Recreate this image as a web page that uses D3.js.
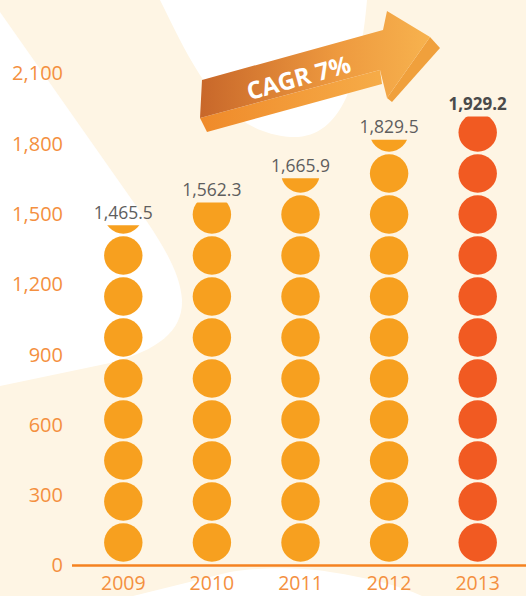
<!DOCTYPE html>
<html>
<head>
<meta charset="utf-8">
<script src="https://cdn.jsdelivr.net/npm/d3@7"></script>
<style>
  html, body { margin: 0; padding: 0; background: #fef5e4; }
  svg { display: block; font-family: "Open Sans", "Noto Sans", sans-serif; }
</style>
</head>
<body>
<div id="chart"></div>
<script>
// data
const years = ['2009', '2010', '2011', '2012', '2013'];
const values = [1465.5, 1562.3, 1665.9, 1829.5, 1929.2];
const valueLabels = ['1,465.5', '1,562.3', '1,665.9', '1,829.5', '1,929.2'];
const yTicks = [0, 300, 600, 900, 1200, 1500, 1800, 2100];
const cagrLabel = 'CAGR 7%';

// one dot per 175 units, first dot centred at 98
const dotStep = 175;
const dotStart = 98;
const dotRadius = 82;

const width = 526;
const height = 596;

const svg = d3.select('#chart')
  .append('svg')
  .attr('width', width)
  .attr('height', height);

const defs = svg.append('defs');

// background swooshes
svg.append('rect').attr('width', width).attr('height', height).attr('fill', '#fef5e4');
const bg = svg.append('g').attr('fill', '#ffffff');
bg.append('path').attr('d', 'M0,12 L125,190 C150,226 180,265 182,300 C183,330 160,350 110,363 L0,386 Z');
bg.append('path').attr('d', 'M160,0 C190,60 220,132 290,137 C342,140 360,80 367,0 Z');
bg.append('path').attr('d', 'M133,596 L230,572 C260,567 300,567 330,572 C370,578 400,586 422,596 Z');

const x = d3.scaleBand().domain(years).range([79, 522]);
const y = d3.scaleLinear().domain([0, 2100]).range([565.5, 73.5]);

// y axis labels
const yAxis = svg.append('g')
  .attr('transform', 'translate(66,0)')
  .call(d3.axisLeft(y).tickValues(yTicks).tickSize(0).tickPadding(3).tickFormat(d3.format(',')));
yAxis.select('.domain').remove();
yAxis.selectAll('text')
  .attr('font-size', 20)
  .attr('fill', '#f4903f')
  .attr('font-family', '"Open Sans", sans-serif');

// dot columns
const cols = svg.selectAll('.col')
  .data(years)
  .enter()
  .append('g')
  .attr('class', 'col');

cols.each(function(yr, i) {
  const g = d3.select(this);
  const cx = x(yr) + x.bandwidth() / 2;
  const last = i === years.length - 1;
  const clipId = 'clip-' + yr;
  defs.append('clipPath').attr('id', clipId)
    .append('rect')
    .attr('x', cx - 30)
    .attr('y', y(values[i]) + 3)
    .attr('width', 60)
    .attr('height', y(0) - y(values[i]));
  const dots = d3.range(14).filter(k => dotStart + dotStep * k - dotRadius < values[i]);
  g.append('g')
    .attr('clip-path', `url(#${clipId})`)
    .selectAll('circle')
    .data(dots)
    .enter()
    .append('circle')
    .attr('cx', cx)
    .attr('cy', k => y(dotStart + dotStep * k))
    .attr('r', y(0) - y(dotRadius))
    .attr('fill', last ? '#f15a22' : '#f7a01f');
  g.append('text')
    .attr('x', cx)
    .attr('y', y(values[i]) - 3.5)
    .attr('text-anchor', 'middle')
    .attr('font-size', last ? 17 : 17.5)
    .attr('font-weight', last ? 700 : 400)
    .attr('fill', last ? '#4a4a4a' : '#5e5e5e')
    .text(valueLabels[i]);
});

// baseline
svg.append('line')
  .attr('x1', 72).attr('x2', width)
  .attr('y1', y(0)).attr('y2', y(0))
  .attr('stroke', '#f58220')
  .attr('stroke-width', 2.6);

// x axis labels
const xAxis = svg.append('g')
  .attr('transform', `translate(0,${y(0)})`)
  .call(d3.axisBottom(x).tickSize(0).tickPadding(11));
xAxis.select('.domain').remove();
xAxis.selectAll('text')
  .attr('font-size', 19.5)
  .attr('fill', '#f4903f')
  .attr('font-family', '"Open Sans", sans-serif');

// CAGR arrow
const gFront = defs.append('linearGradient').attr('id', 'arrowFront')
  .attr('x1', '0%').attr('x2', '100%').attr('y1', '0%').attr('y2', '0%');
gFront.append('stop').attr('offset', '0%').attr('stop-color', '#c8672a');
gFront.append('stop').attr('offset', '60%').attr('stop-color', '#ee9a3f');
gFront.append('stop').attr('offset', '100%').attr('stop-color', '#f7b24e');
const gSide = defs.append('linearGradient').attr('id', 'arrowSide')
  .attr('x1', '0%').attr('x2', '100%').attr('y1', '0%').attr('y2', '0%');
gSide.append('stop').attr('offset', '0%').attr('stop-color', '#ef8a2a');
gSide.append('stop').attr('offset', '100%').attr('stop-color', '#f6ac48');

const arrow = svg.append('g');
arrow.append('path')
  .attr('d', 'M200,118 L380,70 L382,84 L207,132 Z')
  .attr('fill', 'url(#arrowSide)');
arrow.append('path')
  .attr('d', 'M430,37 L440,48 L392,102 L387,98 Z')
  .attr('fill', '#f0a03c');
arrow.append('path')
  .attr('d', 'M202,80 L383,30 L387,11 L430,37 L387,98 L380,70 L200,118 Z')
  .attr('fill', 'url(#arrowFront)');
arrow.append('text')
  .attr('transform', 'translate(301,86) rotate(-15.5)')
  .attr('text-anchor', 'middle')
  .attr('font-size', 24)
  .attr('font-weight', 700)
  .attr('fill', '#ffffff')
  .text(cagrLabel);
</script>
</body>
</html>
